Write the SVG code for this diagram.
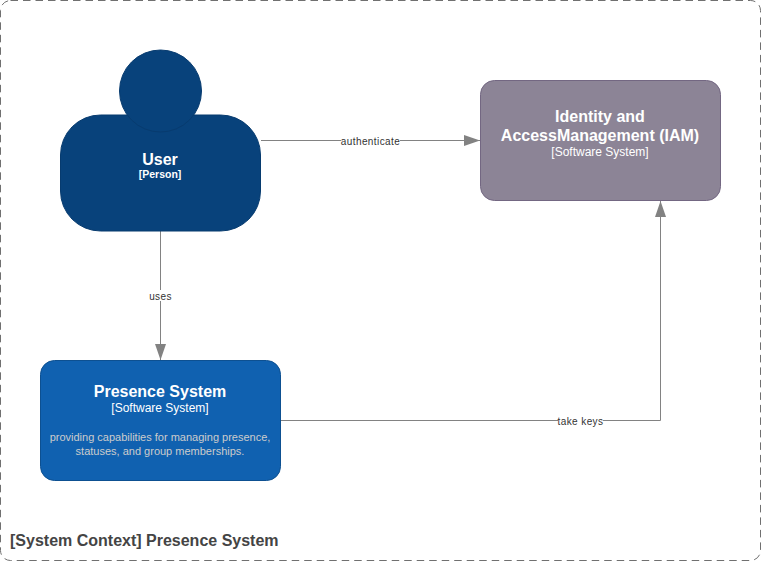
<svg xmlns="http://www.w3.org/2000/svg" width="762" height="562" viewBox="0 0 762 562">
<style>
text{font-family:"Liberation Sans",Arial,sans-serif;text-anchor:middle}
.t{font-size:16px;font-weight:bold;fill:#fff}
.s{font-size:12px;fill:#fff}
.d{font-size:11px;fill:#cccccc}
.l{font-size:10px;fill:#333333;letter-spacing:0.4px}
.c{fill:none;stroke:#828282;stroke-width:1}
.lb{fill:#fff}
</style>
<defs>
<marker id="a" markerUnits="userSpaceOnUse" markerWidth="17" markerHeight="13" refX="16" refY="6" orient="auto"><path d="M0 0.500L16 6L0 11.500Z" fill="#828282"/></marker>
</defs>
<rect id="boundary" x="0.5" y="0.5" width="760" height="560" rx="10" ry="10" fill="#fff" stroke="#707070" stroke-width="1" stroke-dasharray="7.5 5"/>
<g id="connectors">
<path class="c" d="M261 140.500H480" marker-end="url(#a)"/>
<rect class="lb" x="341" y="135" width="59" height="11"/>
<text class="l" x="370.500" y="144.500">authenticate</text>
<path class="c" d="M160.500 231V360" marker-end="url(#a)"/>
<rect class="lb" x="149" y="290" width="23" height="11"/>
<text class="l" x="160.500" y="299.500">uses</text>
<path class="c" d="M281 420.500H660.500V201" marker-end="url(#a)"/>
<rect class="lb" x="558" y="415" width="45" height="11"/>
<text class="l" x="580.500" y="424.500">take keys</text>
</g>
<g id="user">
<rect x="60.500" y="115" width="200" height="116" rx="40" ry="40" fill="#08427b" stroke="#073b6f"/>
<circle cx="160.500" cy="91" r="41" fill="#08427b" stroke="#073b6f"/>
<text class="t" x="160" y="165">User</text>
<text class="s" x="160" y="178" style="font-size:10.500px;font-weight:bold">[Person]</text>
</g>
<g id="presence-system">
<rect x="40.500" y="360.500" width="240" height="120" rx="14" ry="14" fill="#1061b0" stroke="#0d5091"/>
<text class="t" x="160" y="397">Presence System</text>
<text class="s" x="160" y="412">[Software System]</text>
<text class="d" x="160" y="441">providing capabilities for managing presence,</text>
<text class="d" x="160" y="455">statuses, and group memberships.</text>
</g>
<g id="iam">
<rect x="480.500" y="80.500" width="240" height="120" rx="14" ry="14" fill="#8c8496" stroke="#736782"/>
<text class="t" x="600" y="122">Identity and</text>
<text class="t" x="600" y="141">AccessManagement (IAM)</text>
<text class="s" x="600" y="156">[Software System]</text>
</g>
<text id="boundary-label" x="10" y="546" style="font-size:16px;font-weight:bold;fill:#444444;text-anchor:start">[System Context] Presence System</text>
</svg>
